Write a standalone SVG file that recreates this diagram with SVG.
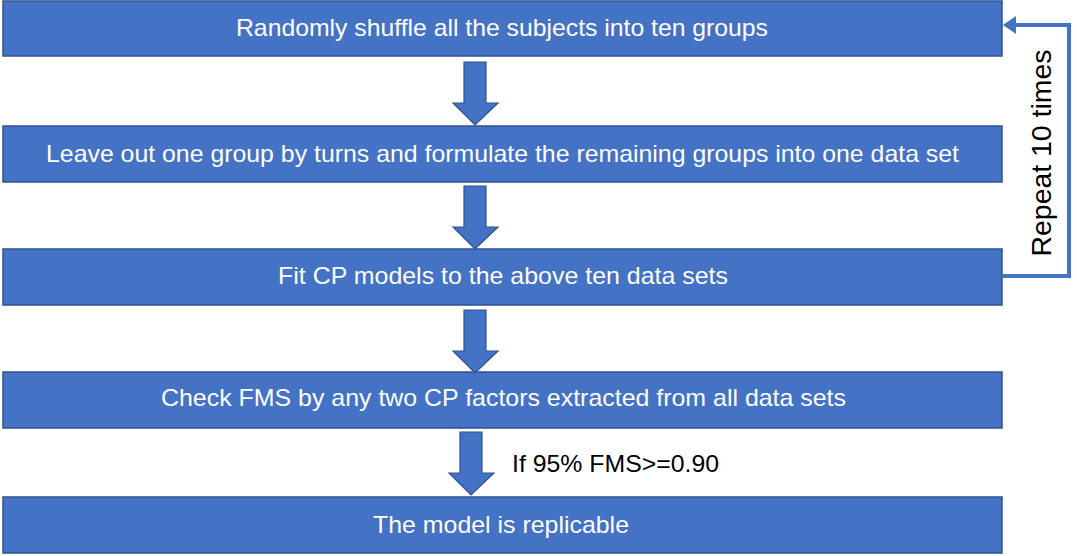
<svg xmlns="http://www.w3.org/2000/svg" width="1077" height="556" viewBox="0 0 1077 556">
<style>
.box{fill:#4472C4;stroke:#2F528F;stroke-width:1.5}
.lbl{fill:#FFFFFF;font-family:"Liberation Sans",Arial,sans-serif;font-size:24px}
.arr{fill:#4472C4;stroke:#2F528F;stroke-width:1.2}
.loop{fill:none;stroke:#4472C4;stroke-width:4}
.txt{fill:#000000;font-family:"Liberation Sans",Arial,sans-serif}
</style>
<rect width="1077" height="556" fill="#FFFFFF"/>
<g id="connectors">
<polygon class="arr" points="464,62 486,62 486,103 498,103 475,125 453,103 464,103"/>
<polygon class="arr" points="464,186 486,186 486,227 498,227 475,249 453,227 464,227"/>
<polygon class="arr" points="464,310 486,310 486,351 498,351 475,373 453,351 464,351"/>
<polygon class="arr" points="460,432 482,432 482,473 494,473 471,495 449,473 460,473"/>
<path class="loop" d="M1003,276 H1069 V25 H1014"/>
<polygon fill="#4472C4" points="1003,25 1016,16 1016,34"/>
<text class="txt" font-size="24" x="512" y="472" textLength="207" lengthAdjust="spacingAndGlyphs">If 95% FMS&gt;=0.90</text>
<text class="txt" font-size="28" transform="translate(1051,153) rotate(-90)" text-anchor="middle" textLength="207" lengthAdjust="spacingAndGlyphs">Repeat 10 times</text>
</g>
<g id="node1">
<rect class="box" x="3" y="1" width="999" height="55"/>
<text class="lbl" x="236" y="36" textLength="532" lengthAdjust="spacingAndGlyphs">Randomly shuffle all the subjects into ten groups</text>
</g>
<g id="node2">
<rect class="box" x="3" y="126" width="999" height="56"/>
<text class="lbl" x="46" y="162" textLength="913" lengthAdjust="spacingAndGlyphs">Leave out one group by turns and formulate the remaining groups into one data set</text>
</g>
<g id="node3">
<rect class="box" x="3" y="249" width="999" height="56"/>
<text class="lbl" x="278" y="284" textLength="450" lengthAdjust="spacingAndGlyphs">Fit CP models to the above ten data sets</text>
</g>
<g id="node4">
<rect class="box" x="3" y="372" width="999" height="56"/>
<text class="lbl" x="161" y="406" textLength="685" lengthAdjust="spacingAndGlyphs">Check FMS by any two CP factors extracted from all data sets</text>
</g>
<g id="node5">
<rect class="box" x="3" y="497" width="999" height="56"/>
<text class="lbl" x="373" y="533" textLength="256" lengthAdjust="spacingAndGlyphs">The model is replicable</text>
</g>
</svg>
